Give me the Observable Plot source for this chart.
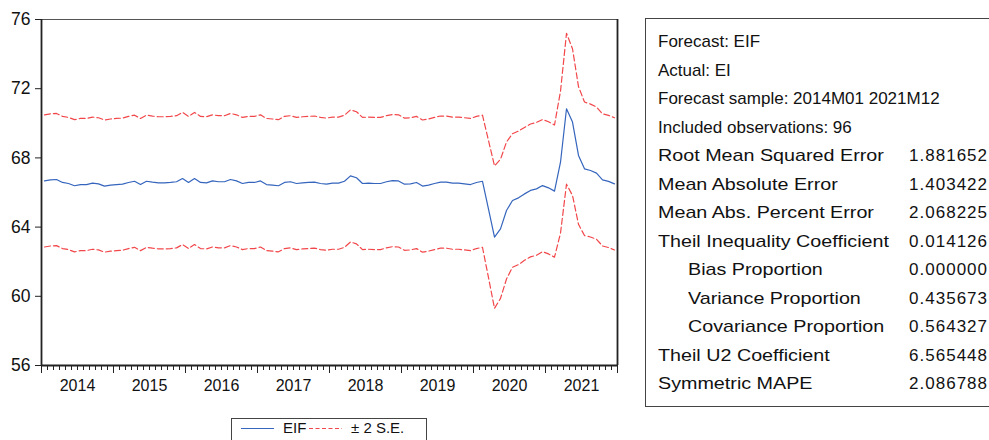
<!DOCTYPE html>
<html>
<head>
<meta charset="utf-8">
<script src="https://cdn.jsdelivr.net/npm/d3@7"></script>
<script src="https://cdn.jsdelivr.net/npm/@observablehq/plot@0.6"></script>
<style>
  body { margin: 0; background: #fff; }
  #wrap { position: relative; width: 989px; height: 440px; overflow: hidden; font-family: "Liberation Sans", Arial, sans-serif; color: #111; background: #fff; }
  #chart { position: absolute; left: 0; top: 0; }
  #chart svg g[aria-label="y-axis tick label"] text { font-size: 17.5px; }
  #legend { position: absolute; left: 231px; top: 418px; width: 196px; height: 40px; border: 1px solid #444; box-sizing: border-box; }
  #legend .lab { position: absolute; top: 0; font-size: 15px; line-height: 18px; white-space: nowrap; }
  #legend svg { position: absolute; top: 0; }
  #stats { position: absolute; left: 645px; top: 18px; width: 380px; height: 389px; border: 1px solid #444; box-sizing: border-box; }
  #stats .row { position: absolute; left: 12px; width: 330px; height: 28px; line-height: 28px; font-size: 17px; white-space: nowrap; }
  #stats .row .k { display: inline-block; }
  #stats .row.stat .k { transform: scaleX(1.16); transform-origin: 0 50%; }
  #stats .row .v { position: absolute; right: 0; top: 0; letter-spacing: 1px; }
  #stats .row.sub .k { margin-left: 30px; }
</style>
</head>
<body>
<div id="wrap">
  <div id="chart"></div>
  <div id="legend"></div>
  <div id="stats"></div>
</div>
<script>
// ---- data ----
const years = ["2014", "2015", "2016", "2017", "2018", "2019", "2020", "2021"];
const yTicks = [56, 60, 64, 68, 72, 76];

// EIF forecast, monthly 2014M01..2021M12
const eif = [
  66.67, 66.73, 66.75, 66.58, 66.52, 66.39, 66.46, 66.46, 66.54, 66.50, 66.37, 66.43,
  66.46, 66.48, 66.58, 66.65, 66.46, 66.65, 66.60, 66.56, 66.56, 66.58, 66.62, 66.81,
  66.58, 66.81, 66.58, 66.56, 66.67, 66.62, 66.62, 66.75, 66.67, 66.52, 66.58, 66.58,
  66.67, 66.46, 66.43, 66.39, 66.58, 66.62, 66.52, 66.56, 66.58, 66.60, 66.52, 66.48,
  66.54, 66.54, 66.65, 66.96, 66.85, 66.52, 66.54, 66.52, 66.52, 66.62, 66.69, 66.67,
  66.48, 66.50, 66.58, 66.37, 66.43, 66.52, 66.60, 66.60, 66.54, 66.54, 66.50, 66.46,
  66.58, 66.65, 65.04, 63.42, 63.90, 64.96, 65.54, 65.69, 65.92, 66.12, 66.21, 66.40,
  66.27, 66.08, 67.75, 70.84, 70.07, 68.14, 67.37, 67.27, 67.12, 66.73, 66.64, 66.50
];
// forecast standard error, monthly (bands are EIF ± 2 S.E.)
const se = [
  1.91, 1.91, 1.91, 1.91, 1.91, 1.91, 1.91, 1.91, 1.91, 1.91, 1.91, 1.91,
  1.91, 1.91, 1.91, 1.91, 1.91, 1.91, 1.91, 1.91, 1.91, 1.91, 1.91, 1.91,
  1.91, 1.91, 1.91, 1.91, 1.91, 1.91, 1.91, 1.91, 1.91, 1.91, 1.91, 1.91,
  1.91, 1.91, 1.91, 1.91, 1.91, 1.91, 1.91, 1.91, 1.91, 1.91, 1.91, 1.91,
  1.91, 1.91, 1.91, 1.91, 1.91, 1.91, 1.91, 1.91, 1.91, 1.91, 1.91, 1.91,
  1.91, 1.91, 1.91, 1.91, 1.91, 1.91, 1.91, 1.91, 1.91, 1.91, 1.91, 1.91,
  1.91, 1.91, 1.98, 2.06, 2.01, 1.98, 1.93, 1.93, 1.92, 1.92, 1.92, 1.91,
  1.91, 1.91, 2.05, 2.18, 2.12, 1.99, 1.93, 1.92, 1.91, 1.91, 1.91, 1.91
];

const legendLabels = ["EIF", "\u00B1 2 S.E."];

const headerLines = ["Forecast: EIF", "Actual: EI", "Forecast sample: 2014M01 2021M12", "Included observations: 96"];
const statLabels = ["Root Mean Squared Error", "Mean Absolute Error", "Mean Abs. Percent Error", "Theil Inequality Coefficient"];
const statValues = ["1.881652", "1.403422", "2.068225", "0.014126"];
const theilParts = ["Bias Proportion", "Variance Proportion", "Covariance Proportion"];
const theilPartValues = ["0.000000", "0.435673", "0.564327"];
const tailLabels = ["Theil U2 Coefficient", "Symmetric MAPE"];
const tailValues = ["6.565448", "2.086788"];

// ---- chart ----
const BLUE = "#3565bd";
const RED = "#f2474a";

const data = eif.map((v, i) => ({t: i + 0.5, eif: v, up: v + 2 * se[i], lo: v - 2 * se[i]}));

const chart = Plot.plot({
  width: 625,
  height: 400,
  marginLeft: 41,
  marginRight: 8,
  marginTop: 19,
  marginBottom: 35,
  x: {domain: [0, eif.length], label: null},
  y: {domain: [56, 76], label: null},
  style: {fontFamily: "'Liberation Sans', Arial, sans-serif", fontSize: "16px", color: "#111", background: "#fff", overflow: "visible"},
  marks: [
    Plot.axisY({ticks: yTicks, tickSize: 6, tickPadding: 5, stroke: "#222"}),
    Plot.axisX({ticks: d3.range(0, eif.length + 1), tickSize: 5, tickFormat: () => "", stroke: "#222"}),
    Plot.axisX({ticks: d3.range(0, eif.length + 1, 12), tickSize: 8, tickFormat: () => "", stroke: "#222"}),
    Plot.axisX({ticks: years.map((_, k) => 12 * k + 6), tickSize: 0, tickPadding: 14, tickFormat: d => years[(d - 6) / 12]}),
    Plot.lineY(data, {x: "t", y: "up", stroke: RED, strokeWidth: 1.2, strokeDasharray: "6,3"}),
    Plot.lineY(data, {x: "t", y: "lo", stroke: RED, strokeWidth: 1.2, strokeDasharray: "6,3"}),
    Plot.lineY(data, {x: "t", y: "eif", stroke: BLUE, strokeWidth: 1.2}),
    Plot.ruleY([76], {stroke: "#555", strokeWidth: 1}),
    Plot.ruleY([56], {stroke: "#222", strokeWidth: 1.8}),
    Plot.ruleX([0, eif.length], {stroke: "#222", strokeWidth: 1.8})
  ]
});
document.getElementById("chart").appendChild(chart);

// ---- legend ----
const legend = document.getElementById("legend");
legend.innerHTML = `
  <svg width="36" height="20" style="left:8px"><line x1="1" x2="34" y1="9.5" y2="9.5" stroke="${BLUE}" stroke-width="1.2"/></svg>
  <div class="lab" style="left:51px">${legendLabels[0]}</div>
  <svg width="36" height="20" style="left:77px"><line x1="0" x2="33" y1="9.5" y2="9.5" stroke="${RED}" stroke-width="1.2" stroke-dasharray="4,2.5"/></svg>
  <div class="lab" style="left:119px">${legendLabels[1]}</div>`;

// ---- statistics box ----
const stats = document.getElementById("stats");
const rows = [];
headerLines.forEach(h => rows.push({k: h, v: "", cls: ""}));
statLabels.forEach((k, i) => rows.push({k, v: statValues[i], cls: "stat"}));
theilParts.forEach((k, i) => rows.push({k, v: theilPartValues[i], cls: "stat sub"}));
tailLabels.forEach((k, i) => rows.push({k, v: tailValues[i], cls: "stat"}));
rows.forEach((r, i) => {
  const d = document.createElement("div");
  d.className = "row " + r.cls;
  d.style.top = (9 + 28.5 * i) + "px";
  d.innerHTML = `<span class="k">${r.k}</span><span class="v">${r.v}</span>`;
  stats.appendChild(d);
});
</script>
</body>
</html>
